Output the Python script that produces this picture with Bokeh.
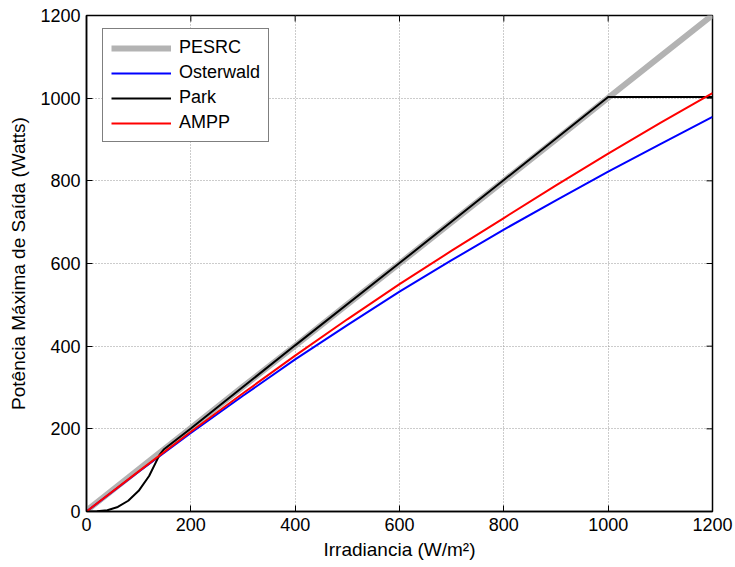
import math
from bokeh.plotting import figure
from bokeh.models import FixedTicker, Legend, LegendItem
from bokeh.embed import file_html
from bokeh.resources import INLINE

# Data
irr = [0, 100, 200, 300, 400, 500, 600, 700, 800, 900, 1000, 1100, 1200]
pesrc = [2, 102, 202, 302, 401, 501, 600, 700, 800, 900, 1001, 1101, 1201]
osterwald = [0, 96, 190, 280, 368, 451, 532, 608, 682, 753, 822, 889, 955]
ampp = [0, 97, 193, 286, 377, 465, 550, 631, 710, 789, 866, 940, 1012]
park_x = [0, 20, 40, 60, 80, 100, 120, 140, 148, 200, 400, 600, 800, 1000, 1200]
park_y = [0, 0.5, 3, 11, 26, 50, 86, 137, 150, 201, 402, 601, 802, 1003, 1003]

ticks = [0, 200, 400, 600, 800, 1000, 1200]
FONT = "Liberation Sans"
XMAX = 1200
YMAX = 1200

p = figure(frame_width=626, frame_height=496, output_backend="svg", toolbar_location=None,
           x_range=(0, XMAX), y_range=(0, YMAX),
           min_border_left=86, min_border_right=23, min_border_top=15, min_border_bottom=56)
p.background_fill_color = "white"
p.border_fill_color = "white"
p.outline_line_color = "black"
p.outline_line_width = 1.5

for ax in (p.xaxis[0], p.yaxis[0]):
    ax.ticker = FixedTicker(ticks=ticks)
    ax.major_tick_in = 6
    ax.major_tick_out = 0
    ax.minor_tick_line_color = None
    ax.axis_line_color = "black"
    ax.axis_line_width = 1.5
    ax.major_label_text_font = FONT
    ax.major_label_text_font_size = "18px"
    ax.major_label_text_color = "black"
    ax.axis_label_text_font = FONT
    ax.axis_label_text_font_size = "19px"
    ax.axis_label_text_font_style = "normal"
    ax.axis_label_text_color = "black"

p.xaxis.axis_label = "Irradiancia (W/m²)"
p.yaxis.axis_label = "Potência Máxima de Saída (Watts)"
p.xaxis.major_label_standoff = 6
p.yaxis.major_label_standoff = 6
p.xaxis.axis_label_standoff = 5
p.yaxis.axis_label_standoff = 8

p.xgrid.ticker = FixedTicker(ticks=ticks)
p.ygrid.ticker = FixedTicker(ticks=ticks)
for g in (p.xgrid[0], p.ygrid[0]):
    g.grid_line_color = "#999999"
    g.grid_line_dash = "1 2"
    g.grid_line_width = 1

# box ticks on the top and right edges (inward)
p.ray(x=ticks, y=[YMAX] * len(ticks), length=6, length_units="screen",
      angle=-math.pi / 2, line_color="black", line_width=1)
p.ray(x=[XMAX] * len(ticks), y=ticks, length=6, length_units="screen",
      angle=math.pi, line_color="black", line_width=1)

r1 = p.line(irr, pesrc, line_color="#b3b3b3", line_width=6)
r2 = p.line(irr, osterwald, line_color="#0000ff", line_width=2)
r3 = p.line(park_x, park_y, line_color="black", line_width=2)
r4 = p.line(irr, ampp, line_color="#ff0000", line_width=2)

legend = Legend(items=[
    LegendItem(label="PESRC", renderers=[r1]),
    LegendItem(label="Osterwald", renderers=[r2]),
    LegendItem(label="Park", renderers=[r3]),
    LegendItem(label="AMPP", renderers=[r4]),
], location=(16, 496 - 15 - 112))
legend.margin = 0
legend.padding = 8
legend.spacing = 4
legend.glyph_width = 60
legend.glyph_height = 20
legend.label_height = 20
legend.label_standoff = 8
legend.label_text_font = FONT
legend.label_text_font_size = "18px"
legend.label_text_color = "black"
legend.border_line_color = "black"
legend.border_line_width = 1.5
legend.background_fill_alpha = 1
p.add_layout(legend)

open("out.html", "w").write(file_html(p, INLINE))
